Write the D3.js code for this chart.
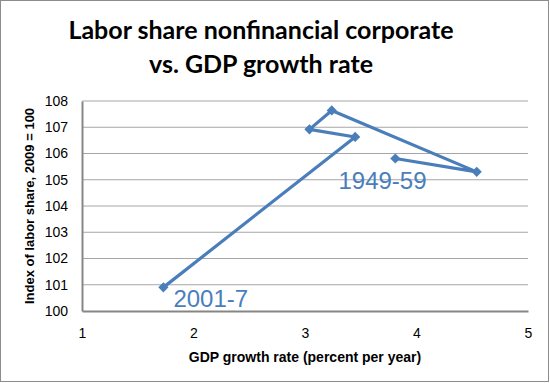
<!DOCTYPE html>
<html>
<head>
<meta charset="utf-8">
<script src="https://cdn.jsdelivr.net/npm/d3@7"></script>
<style>
  body { margin: 0; background: #fff; }
  text { font-family: "Liberation Sans", Arial, sans-serif; }
</style>
</head>
<body>
<div id="chart"></div>
<script>
// Data: GDP growth vs labor share index
var growth = [1.73, 3.45, 3.04, 3.24, 4.54, 3.81];
var laborShare = [100.9, 106.63, 106.92, 107.64, 105.3, 105.81];
var xTicks = [1, 2, 3, 4, 5];
var yTicks = [100, 101, 102, 103, 104, 105, 106, 107, 108];
var periodLabels = ["2001-7", "1949-59"];
var labelAt = [[1.82, 100.16], [3.3, 104.64]];

var width = 550,
    height = 383,
    margin = { top: 101, right: 22, bottom: 72, left: 82 };

var blue = "#4a7ebb";

var svg = d3.select("#chart")
    .append("svg")
    .attr("width", width)
    .attr("height", height);

// outer frame
svg.append("rect")
    .attr("x", 0.5).attr("y", 0.5)
    .attr("width", width - 2).attr("height", height - 2)
    .attr("fill", "#fff")
    .attr("stroke", "#8c8c8c");

var x = d3.scaleLinear()
    .domain([1, 5])
    .range([margin.left, width - margin.right]);

var y = d3.scaleLinear()
    .domain([100, 108])
    .range([height - margin.bottom, margin.top]);

// gridlines
svg.append("g")
    .selectAll("line")
    .data(yTicks.slice(1))
    .enter()
    .append("line")
    .attr("x1", x(1)).attr("x2", x(5))
    .attr("y1", function(d) { return y(d); })
    .attr("y2", function(d) { return y(d); })
    .attr("stroke", "#a6a6a6")
    .attr("stroke-width", 1);

// axes
var xAxis = svg.append("g")
    .attr("transform", "translate(0," + y(100) + ")")
    .call(d3.axisBottom(x).tickValues(xTicks).tickSize(0).tickPadding(17).tickFormat(d3.format("d")));
var yAxis = svg.append("g")
    .attr("transform", "translate(" + x(1) + ",0)")
    .call(d3.axisLeft(y).tickValues(yTicks).tickSize(0).tickPadding(14).tickFormat(d3.format("d")));

[xAxis, yAxis].forEach(function(a) {
    a.select(".domain").attr("stroke", "#868686").attr("stroke-width", 2);
    a.selectAll("text")
        .attr("fill", "#000")
        .style("font-size", "14px")
        .style("font-family", "'Liberation Sans', Arial, sans-serif");
});

// the path
var line = d3.line()
    .x(function(d) { return x(d[0]); })
    .y(function(d) { return y(d[1]); });

var pts = d3.zip(growth, laborShare);

svg.append("path")
    .datum(pts)
    .attr("d", line)
    .attr("fill", "none")
    .attr("stroke", blue)
    .attr("stroke-width", 3.2)
    .attr("stroke-linejoin", "round");

// diamonds = squares turned 45 degrees
svg.selectAll(".marker")
    .data(pts)
    .enter()
    .append("path")
    .attr("class", "marker")
    .attr("d", d3.symbol().type(d3.symbolSquare).size(52))
    .attr("transform", function(d) { return "translate(" + x(d[0]) + "," + y(d[1]) + ") rotate(45)"; })
    .attr("fill", blue);

// period labels
svg.selectAll(".period")
    .data(periodLabels)
    .enter()
    .append("text")
    .attr("class", "period")
    .attr("x", function(d, i) { return x(labelAt[i][0]); })
    .attr("y", function(d, i) { return y(labelAt[i][1]); })
    .attr("fill", blue)
    .style("font-size", "24px")
    .text(function(d) { return d; });

// title
var title = svg.append("text")
    .attr("text-anchor", "middle")
    .style("font-size", "25px")
    .style("font-weight", "bold")
    .style("font-family", "Lato, 'Liberation Sans', sans-serif");
title.append("tspan").attr("x", 261).attr("y", 39).text("Labor share nonfinancial corporate");
title.append("tspan").attr("x", 261).attr("y", 73).text("vs. GDP growth rate");

// axis titles
svg.append("text")
    .attr("x", (x(1) + x(5)) / 2)
    .attr("y", 362)
    .attr("text-anchor", "middle")
    .style("font-size", "14px")
    .style("font-weight", "bold")
    .text("GDP growth rate (percent per year)");

svg.append("text")
    .attr("transform", "translate(34," + ((y(100) + y(108)) / 2) + ") rotate(-90)")
    .attr("text-anchor", "middle")
    .style("font-size", "13px")
    .style("font-weight", "bold")
    .text("Index of labor share, 2009 = 100");
</script>
</body>
</html>
